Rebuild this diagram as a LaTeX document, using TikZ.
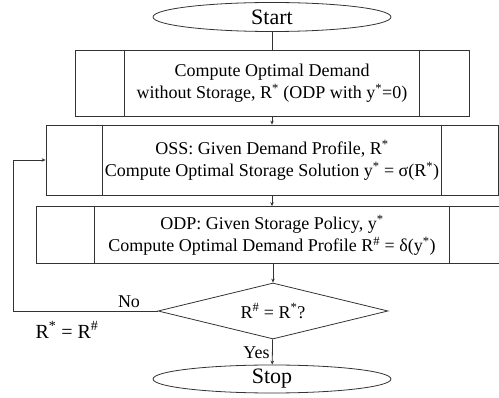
\documentclass[tikz,border=0pt]{standalone}
\usepackage{fontspec}
\setmainfont{Liberation Serif}
\usepackage{tikz}
\usetikzlibrary{shapes.geometric}
\usetikzlibrary{arrows.meta}

\newcommand{\st}{\textsuperscript{*}}
\newcommand{\hs}{\textsuperscript{\#}}

\begin{document}
\begin{tikzpicture}[x=1pt,y=-1pt,line width=0.8pt,draw=black!80]

	\tikzstyle{terminal} = [draw,ellipse,minimum width=238pt,minimum height=29pt,inner sep=0pt,font=\fontsize{22}{24}\selectfont]
	\tikzstyle{process} = [draw,rectangle,align=center,inner sep=0pt,font=\fontsize{18}{22}\selectfont]
	\tikzstyle{decision} = [draw,diamond,aspect=4,minimum width=230pt,minimum height=56pt,inner sep=0pt,font=\fontsize{18}{20}\selectfont]
	\tikzstyle{flow} = [-{Stealth[length=4pt,width=3.5pt]}]
	\tikzstyle{lbl} = [inner sep=1pt,font=\fontsize{18}{20}\selectfont]

	\useasboundingbox (0,0) rectangle (499,398);

	\node[terminal] (start) at (272,17) {Start};

	\node[process,minimum width=394pt,minimum height=66pt] (opt) at (272,83)
		{Compute Optimal Demand\\without Storage, R\st{} (ODP with y\st=0)};

	\node[process,minimum width=452pt,minimum height=70pt] (oss) at (272,160)
		{OSS: Given Demand Profile, R\st\\Compute Optimal Storage Solution y\st{} = σ(R\st)};

	\node[process,minimum width=472pt,minimum height=57pt] (odp) at (272,235)
		{ODP: Given Storage Policy, y\st\\Compute Optimal Demand Profile R\hs{} = δ(y\st)};

	% side bars of the process boxes
	\foreach \n/\d in {opt/50,oss/57,odp/59}
	{
		\draw ([xshift=\d pt]\n.north west) -- ([xshift=\d pt]\n.south west);
		\draw ([xshift=-\d pt]\n.north east) -- ([xshift=-\d pt]\n.south east);
	}

	\node[decision] (chk) at (273,311) {R\hs{} = R\st?};

	\node[terminal,minimum height=28pt] (stop) at (272,379) {Stop};

	\draw (start) -- (opt);
	\draw[flow] (opt) -- (oss);
	\draw[flow] (oss) -- (odp);
	\draw[flow] (odp.south -| chk.north) -- (chk);
	\draw[flow] (chk) -- (stop);

	% loop back
	\coordinate (back) at (13,311);
	\draw[flow] (chk.west) -- (back) |- (oss.west);

	\node[lbl,anchor=south] (no) at (129,309) {No};
	\node[lbl,font=\fontsize{20}{22}\selectfont] (upd) at (67,330) {R\st{} = R\hs};
	\node[lbl,anchor=east] (yes) at (271,353) {Yes};

\end{tikzpicture}
\end{document}
